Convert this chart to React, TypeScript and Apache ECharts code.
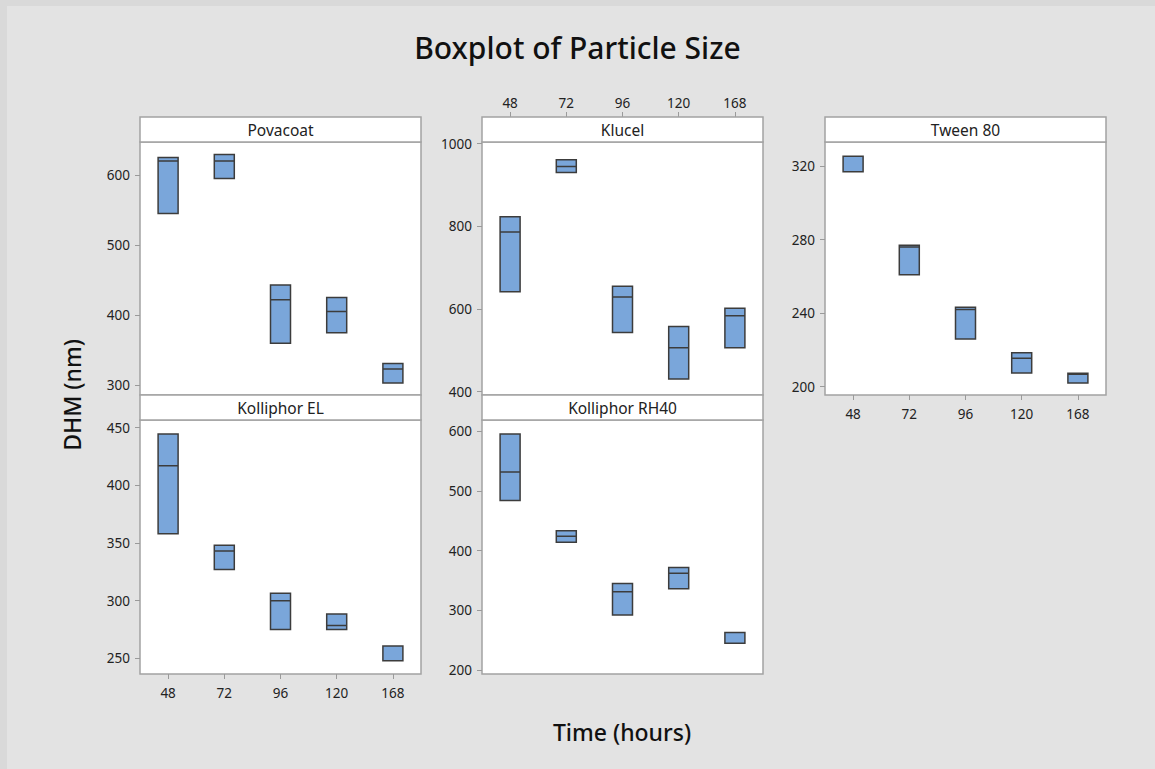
import React, { useEffect, useRef } from "react";
import * as echarts from "echarts";

const FONT = "'Noto Sans', 'Open Sans', sans-serif";

// ---- data ----
const times = ["48", "72", "96", "120", "168"];
const panelNames = ["Povacoat", "Klucel", "Tween 80", "Kolliphor EL", "Kolliphor RH40"];

const povacoatQ1 = [545, 595, 360, 375, 303];
const povacoatMedian = [620, 620, 422, 405, 323];
const povacoatQ3 = [625, 629, 443, 425, 331];

const klucelQ1 = [642, 930, 543, 431, 506];
const klucelMedian = [786, 945, 629, 506, 584];
const klucelQ3 = [823, 961, 655, 558, 602];

const tweenQ1 = [317, 261, 226, 207.5, 202];
const tweenMedian = [325.5, 276, 242, 215.5, 206.8];
const tweenQ3 = [325.5, 277, 243.2, 218.5, 207.4];

const kelQ1 = [358, 327, 275, 275, 248];
const kelMedian = [417, 343, 300, 278.5, 260.7];
const kelQ3 = [444.5, 348, 306.5, 288.5, 260.7];

const rh40Q1 = [484, 414, 292, 336, 245];
const rh40Median = [532, 424, 331, 362, 263];
const rh40Q3 = [595.5, 433.5, 345, 372, 263];

const povacoatTicks = [300, 400, 500, 600];
const klucelTicks = [400, 600, 800, 1000];
const tweenTicks = [200, 240, 280, 320];
const kelTicks = [250, 300, 350, 400, 450];
const rh40Ticks = [200, 300, 400, 500, 600];

const q1s = [povacoatQ1, klucelQ1, tweenQ1, kelQ1, rh40Q1];
const meds = [povacoatMedian, klucelMedian, tweenMedian, kelMedian, rh40Median];
const q3s = [povacoatQ3, klucelQ3, tweenQ3, kelQ3, rh40Q3];
const tickSets = [povacoatTicks, klucelTicks, tweenTicks, kelTicks, rh40Ticks];
const yMins = [286, 392, 195.5, 236.4, 193.3];
const yMaxs = [647, 1004, 333.2, 456.7, 619];

// ---- layout ----
const PW = 281;
const PH = 253;
const HEADER = 25;
const lefts = [140, 482, 825, 140, 482];
const tops = [142, 142, 142, 420, 420];
const heights = [PH, PH, PH, 254, 254];
const xLabelPos: ("none" | "top" | "bottom")[] = ["none", "top", "bottom", "bottom", "none"];

export default function App() {
  const ref = useRef<HTMLDivElement>(null);

  useEffect(() => {
    document.body.style.margin = "0";
    if (!ref.current) return;
    const chart = echarts.init(ref.current, null, { renderer: "svg" });

    const grids: any[] = [];
    const xAxes: any[] = [];
    const yAxes: any[] = [];
    const series: any[] = [];
    const graphics: any[] = [
      {
        type: "rect",
        shape: { x: 7, y: 6, width: 1148, height: 763 },
        style: { fill: "#e3e3e3" },
        silent: true,
        z: -10,
      },
    ];

    panelNames.forEach((name, i) => {
      grids.push({
        left: lefts[i],
        top: tops[i],
        width: PW,
        height: heights[i],
        show: true,
        backgroundColor: "#ffffff",
        borderColor: "#a3a3a3",
        borderWidth: 1.5,
      });
      const pos = xLabelPos[i];
      xAxes.push({
        type: "category",
        gridIndex: i,
        data: times,
        boundaryGap: true,
        position: pos === "top" ? "top" : "bottom",
        offset: pos === "top" ? HEADER : 0,
        axisLine: { show: false },
        axisTick: {
          show: pos !== "none",
          alignWithLabel: true,
          length: 5,
          lineStyle: { color: "#9a9a9a", width: 1 },
        },
        axisLabel: {
          show: pos !== "none",
          fontFamily: FONT,
          fontSize: 13.5,
          color: "#222",
          margin: pos === "top" ? 7 : 12,
        },
        splitLine: { show: false },
      });
      yAxes.push({
        type: "value",
        gridIndex: i,
        min: yMins[i],
        max: yMaxs[i],
        axisLine: { show: false },
        splitLine: { show: false },
        axisTick: {
          show: true,
          length: 5,
          customValues: tickSets[i],
          lineStyle: { color: "#9a9a9a", width: 1 },
        },
        axisLabel: {
          customValues: tickSets[i],
          formatter: (v: number) => String(v),
          fontFamily: FONT,
          fontSize: 13.5,
          color: "#222",
          margin: 10,
        },
      });
      series.push({
        type: "boxplot",
        xAxisIndex: i,
        yAxisIndex: i,
        boxWidth: [20, 20],
        itemStyle: {
          color: "#7aa6da",
          borderColor: "#3c3c3c",
          borderWidth: 1.5,
        },
        data: times.map((_, k) => [q1s[i][k], q1s[i][k], meds[i][k], q3s[i][k], q3s[i][k]]),
      });
      graphics.push({
        type: "rect",
        shape: { x: lefts[i], y: tops[i] - HEADER, width: PW, height: HEADER },
        style: { fill: "#ffffff", stroke: "#a3a3a3", lineWidth: 1.5 },
        z: 5,
      });
      graphics.push({
        type: "text",
        x: lefts[i] + PW / 2,
        y: tops[i] - HEADER / 2,
        style: {
          text: name,
          fontFamily: FONT,
          fontSize: 15.5,
          fill: "#222",
          align: "center",
          verticalAlign: "middle",
        },
        z: 6,
      });
    });

    graphics.push({
      type: "text",
      x: 72,
      y: 395,
      rotation: Math.PI / 2,
      style: {
        text: "DHM (nm)",
        fontFamily: FONT,
        fontSize: 23,
        fontWeight: 500,
        fill: "#111",
        align: "center",
        verticalAlign: "middle",
      },
    });
    graphics.push({
      type: "text",
      x: 622,
      y: 732,
      style: {
        text: "Time (hours)",
        fontFamily: FONT,
        fontSize: 23,
        fontWeight: 500,
        fill: "#111",
        align: "center",
        verticalAlign: "middle",
      },
    });

    chart.setOption({
      animation: false,
      backgroundColor: "#d9d9d9",
      title: {
        text: "Boxplot of Particle Size",
        left: "center",
        top: 27,
        textStyle: { fontFamily: FONT, fontSize: 30, fontWeight: 500, color: "#111" },
      },
      grid: grids,
      xAxis: xAxes,
      yAxis: yAxes,
      series,
      graphic: graphics,
    });

    return () => chart.dispose();
  }, []);

  return <div ref={ref} style={{ width: 1155, height: 769 }} />;
}
